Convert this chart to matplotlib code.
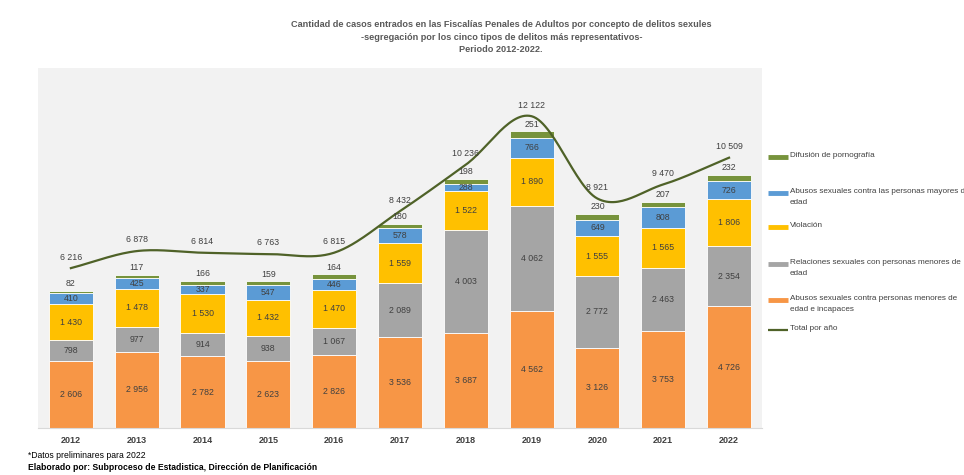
import numpy as np
import matplotlib
matplotlib.use("Agg")
import matplotlib.pyplot as plt
from matplotlib.lines import Line2D

plt.rcParams['font.family'] = ['Liberation Sans', 'DejaVu Sans']

# Datos
anios = ['2012', '2013', '2014', '2015', '2016', '2017', '2018', '2019', '2020', '2021', '2022']
abusos_menores = [2606, 2956, 2782, 2623, 2826, 3536, 3687, 4562, 3126, 3753, 4726]
relaciones_menores = [798, 977, 914, 938, 1067, 2089, 4003, 4062, 2772, 2463, 2354]
violacion = [1430, 1478, 1530, 1432, 1470, 1559, 1522, 1890, 1555, 1565, 1806]
abusos_mayores = [410, 425, 337, 547, 446, 578, 288, 766, 649, 808, 726]
difusion = [82, 117, 166, 159, 164, 180, 198, 251, 230, 207, 232]
total_anio = [6216, 6878, 6814, 6763, 6815, 8432, 10236, 12122, 8921, 9470, 10509]

series = [
    ("Abusos sexuales contra personas menores de\nedad e incapaces", abusos_menores, '#F79646'),
    ("Relaciones sexuales con personas menores de\nedad", relaciones_menores, '#A5A5A5'),
    ("Violación", violacion, '#FFC000'),
    ("Abusos sexuales contra las personas mayores de\nedad", abusos_mayores, '#5B9BD5'),
    ("Difusión de pornografía", difusion, '#77933C'),
]
color_linea = '#4F6228'
gris_texto = '#404040'


def fmt(v):
    return f"{v:,}".replace(",", " ")


def suavizar(x, y, pasos=30):
    # curva tipo Catmull-Rom, similar a la línea suavizada de Excel
    x = np.asarray(x, float)
    y = np.asarray(y, float)
    px = np.concatenate([[2 * x[0] - x[1]], x, [2 * x[-1] - x[-2]]])
    py = np.concatenate([[2 * y[0] - y[1]], y, [2 * y[-1] - y[-2]]])
    xs, ys = [], []
    for i in range(1, len(px) - 2):
        t = np.linspace(0, 1, pasos)
        p0, p1, p2, p3 = (np.array([px[j], py[j]]) for j in range(i - 1, i + 3))
        c1 = p1 + (p2 - p0) / 6
        c2 = p2 - (p3 - p1) / 6
        b = ((1 - t) ** 3)[:, None] * p1 + (3 * (1 - t) ** 2 * t)[:, None] * c1 \
            + (3 * (1 - t) * t ** 2)[:, None] * c2 + (t ** 3)[:, None] * p2
        xs.extend(b[:, 0])
        ys.extend(b[:, 1])
    return xs, ys


fig = plt.figure(figsize=(9.64, 4.75), dpi=100)
ax = fig.add_axes([0.0394, 0.099, 0.751, 0.758])
ax.set_facecolor('#F2F2F2')

x = np.arange(len(anios))
ancho = 0.67
base = np.zeros(len(anios))
for nombre, valores, color in series:
    ax.bar(x, valores, ancho, bottom=base, color=color, edgecolor='white', linewidth=0.6, zorder=2)
    for xi, b, v in zip(x, base, valores):
        if nombre.startswith("Difusión"):
            ax.annotate(fmt(v), (xi, b + v), xytext=(0, 2), textcoords='offset points',
                        ha='center', va='bottom', fontsize=6.3, color=gris_texto, zorder=4)
        else:
            ax.text(xi, b + v / 2, fmt(v), ha='center', va='center',
                    fontsize=6.3, color=gris_texto, zorder=4)
    base = base + np.array(valores)

lx, ly = suavizar(x, total_anio)
ax.plot(lx, ly, color=color_linea, linewidth=1.6, zorder=3)
for xi, v in zip(x, total_anio):
    ax.annotate(fmt(v), (xi, v), xytext=(0, 8), textcoords='offset points',
                ha='center', va='center', fontsize=6.3, color=gris_texto, zorder=4)

ax.set_xlim(-0.5, len(anios) - 0.5)
ax.set_ylim(0, 14000)
ax.set_xticks(x)
ax.set_xticklabels(anios, fontsize=6.5, color=gris_texto, fontweight='bold')
ax.tick_params(axis='x', length=0, pad=6)
ax.set_yticks([])
for lado in ['top', 'right', 'left']:
    ax.spines[lado].set_visible(False)
ax.spines['bottom'].set_color('#D9D9D9')

# Título
fig.text(0.52, 0.957, "Cantidad de casos entrados en las Fiscalías Penales de Adultos por concepto de delitos sexules\n"
         "-segregación por los cinco tipos de delitos más representativos-\nPeriodo 2012-2022.",
         ha='center', va='top', fontsize=6.6, fontweight='bold', color='#595959', linespacing=1.45)

# Leyenda
entradas = [
    ("Difusión de pornografía", '#77933C', 157, 'bar'),
    ("Abusos sexuales contra las personas mayores de\nedad", '#5B9BD5', 193, 'bar'),
    ("Violación", '#FFC000', 227, 'bar'),
    ("Relaciones sexuales con personas menores de\nedad", '#A5A5A5', 264, 'bar'),
    ("Abusos sexuales contra personas menores de\nedad e incapaces", '#F79646', 300, 'bar'),
    ("Total por año", color_linea, 330, 'line'),
]
for texto, color, ypx, tipo in entradas:
    yf = 1 - ypx / 475
    lw = 3.5 if tipo == 'bar' else 1.6
    fig.add_artist(Line2D([768 / 964, 788 / 964], [yf, yf], color=color, linewidth=lw,
                          solid_capstyle='butt', transform=fig.transFigure))
    fig.text(790 / 964, yf + 0.011, texto, ha='left', va='top', fontsize=5.9,
             color=gris_texto, linespacing=1.75)

fig.text(28 / 964, 1 - 455 / 475, "*Datos preliminares para 2022", ha='left', va='center',
         fontsize=6.2, color='black')
fig.text(28 / 964, 1 - 467 / 475, "Elaborado por: Subproceso de Estadistica, Dirección de Planificación",
         ha='left', va='center', fontsize=6.2, fontweight='bold', color='black')

fig.savefig('out.png', dpi=100)
